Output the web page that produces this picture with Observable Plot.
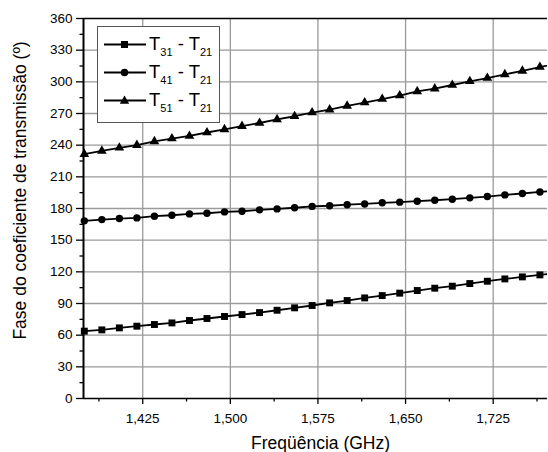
<!DOCTYPE html>
<html>
<head>
<meta charset="utf-8">
<script src="https://cdn.jsdelivr.net/npm/d3@7"></script>
<script src="https://cdn.jsdelivr.net/npm/@observablehq/plot@0.6"></script>
<style>
  html, body { margin: 0; padding: 0; background: #fff; overflow: hidden; }
  #wrap { position: relative; width: 548px; height: 452px; overflow: hidden; font-family: "Liberation Sans", Arial, sans-serif; }
  #legend { position: absolute; left: 97px; top: 26px; width: 121px; height: 95px; border: 1.5px solid #555; background: #fff; }
  .row { position: absolute; left: 0; height: 28px; display: flex; align-items: center; }
  .row svg { display: block; margin-left: 6px; }
  .lab { font-size: 18.5px; color: #000; margin-left: 3px; white-space: nowrap; line-height: 1; }
  .lab sub { font-size: 11px; vertical-align: -6px; line-height: 0; }
</style>
</head>
<body>
<div id="wrap"></div>
<script>
// Frequencies (GHz)
const freq = [1.375,1.390,1.405,1.420,1.435,1.450,1.465,1.480,1.495,1.510,1.525,1.540,1.555,1.570,
              1.585,1.600,1.615,1.630,1.645,1.660,1.675,1.690,1.705,1.720,1.735,1.750,1.765,1.780];
// Phase differences (degrees)
const t31 = [63.8,65.0,66.9,68.5,70.1,71.6,73.9,75.8,77.7,79.5,81.4,83.6,85.9,88.1,
             90.6,92.8,95.3,97.5,99.8,102.3,104.5,106.4,108.9,111.1,113.3,115.2,117.1,119.1];
const t41 = [168.3,169.5,170.5,171.1,172.7,173.6,174.9,175.5,176.8,177.4,178.7,179.6,180.7,182.0,
             182.6,183.6,184.3,185.4,186.0,186.9,187.8,188.8,190.1,191.3,192.9,194.2,195.7,197.2];
const t51 = [231.5,234.5,237.5,240.0,243.5,246.3,248.7,252.0,255.0,258.0,261.0,264.4,267.4,270.9,
             273.7,277.2,280.4,283.7,287.0,291.0,293.6,297.0,300.5,303.6,307.1,310.3,314.0,317.3];

const seriesNames = ["T31 - T21", "T41 - T21", "T51 - T21"];
const seriesSymbols = ["square", "circle", "triangle"];
const seriesValues = [t31, t41, t51];

const xTicks = [1.425, 1.500, 1.575, 1.650, 1.725];
const xMinorTicks = [1.3875, 1.4625, 1.5375, 1.6125, 1.6875, 1.7625];
const yTicks = [0,30,60,90,120,150,180,210,240,270,300,330,360];
const yMinorTicks = [15,45,75,105,135,165,195,225,255,285,315,345];

const xLabel = "Freqüência (GHz)";
const yLabel = "Fase do coeficiente de transmissão (º)";

const rows = [];
seriesValues.forEach((vals, s) => vals.forEach((v, i) => rows.push({f: freq[i], v, s: seriesNames[s], sym: seriesSymbols[s]})));

const fmt = d => d3.format(".3f")(d).replace(".", ",");
const FONT = "Liberation Sans, Arial, sans-serif";

const symR = {square: 3.9, circle: 3.7, triangle: 3.6};

const chart = Plot.plot({
  width: 548,
  height: 452,
  marginLeft: 83,
  marginRight: 1,
  marginTop: 18,
  marginBottom: 54,
  style: {fontFamily: FONT, background: "#fff", overflow: "hidden"},
  x: {domain: [1.3743, 1.7715]},
  y: {domain: [0, 360]},
  marks: [
    Plot.gridX(xTicks, {stroke: "#9a9a9a", strokeOpacity: 1, strokeWidth: 1.3}),
    Plot.gridY(yTicks.slice(1, -1), {stroke: "#9a9a9a", strokeOpacity: 1, strokeWidth: 1.3}),
    Plot.axisX(xTicks, {tickSize: 6, tickPadding: 9, tickFormat: fmt, fontSize: 13.5, label: null, strokeWidth: 1.3}),
    Plot.axisX(xMinorTicks, {tickSize: 3.5, tickFormat: () => "", label: null, strokeWidth: 1.3}),
    Plot.axisY(yTicks, {tickSize: 7, tickPadding: 4, fontSize: 13.5, label: null, strokeWidth: 1.3}),
    Plot.axisY(yMinorTicks, {tickSize: 3.5, tickFormat: () => "", label: null, strokeWidth: 1.3}),
    Plot.ruleY([0], {stroke: "#000", strokeWidth: 1.6}),
    Plot.ruleY([360], {stroke: "#000", strokeWidth: 1.6}),
    Plot.ruleX([1.3743], {stroke: "#000", strokeWidth: 2}),
    Plot.line(rows, {x: "f", y: "v", z: "s", stroke: "#000", strokeWidth: 1.8, clip: true}),
    ...seriesSymbols.map((sym, k) => Plot.dot(rows.filter(r => r.sym === sym), {
      x: "f", y: "v", symbol: sym, r: symR[sym], fill: "#000", stroke: "none"
    })),
    Plot.text([xLabel], {frameAnchor: "bottom", textAnchor: "middle", dx: 5, dy: 50, lineAnchor: "bottom", fontSize: 17.5, fill: "#000"}),
    Plot.text([yLabel], {frameAnchor: "left", textAnchor: "middle", dx: -58, dy: -18, rotate: -90, lineAnchor: "bottom", fontSize: 17.5, fill: "#000"})
  ]
});

const wrap = document.getElementById("wrap");
wrap.appendChild(chart);

// Legend (HTML overlay)
const legend = document.createElement("div");
legend.id = "legend";
const sym = {
  square: '<rect x="17" y="10" width="7" height="7" fill="#000"/>',
  circle: '<circle cx="20.5" cy="13.5" r="3.8" fill="#000"/>',
  triangle: '<path d="M20.5 8.6 L25.2 16.8 L15.8 16.8 Z" fill="#000"/>'
};
seriesNames.forEach((name, k) => {
  const row = document.createElement("div");
  row.className = "row";
  row.style.top = (3 + k * 28) + "px";
  const parts = name.match(/T(\d+) - T(\d+)/);
  row.innerHTML = `<svg width="42" height="27"><line x1="0" x2="42" y1="13.5" y2="13.5" stroke="#000" stroke-width="1.8"/>${sym[seriesSymbols[k]]}</svg>` +
    `<span class="lab">T<sub>${parts[1]}</sub> - T<sub>${parts[2]}</sub></span>`;
  legend.appendChild(row);
});
wrap.appendChild(legend);
</script>
</body>
</html>
